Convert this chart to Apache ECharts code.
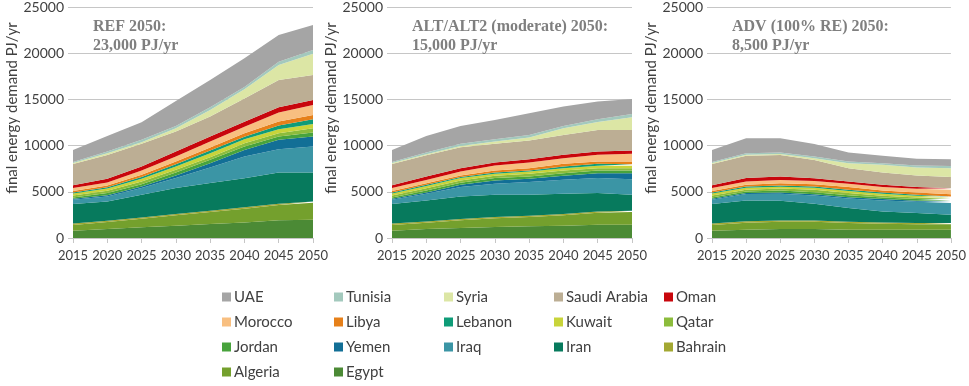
<!DOCTYPE html>
<html>
<head>
<meta charset="utf-8">
<script src="https://cdn.jsdelivr.net/npm/echarts@6/dist/echarts.min.js"></script>
<style>
  html, body { margin: 0; padding: 0; background: #fff; }
  #main { width: 969px; height: 386px; }
</style>
</head>
<body>
<div id="main"></div>
<script>
// years on the x axis
var years = ['2015', '2020', '2025', '2030', '2035', '2040', '2045', '2050'];

// stacking order, bottom to top
var countries = ['Egypt', 'Algeria', 'Bahrain', 'Iran', 'Iraq', 'Yemen', 'Jordan', 'Qatar', 'Kuwait',
  'Lebanon', 'Libya', 'Morocco', 'Oman', 'Saudi Arabia', 'Syria', 'Tunisia', 'UAE'];

var colors = {
  'Egypt': '#4b8a35', 'Algeria': '#74a02d', 'Bahrain': '#a3a832', 'Iran': '#077a5d',
  'Iraq': '#3b95a5', 'Yemen': '#126f96', 'Jordan': '#48a33c', 'Qatar': '#8cbc3c',
  'Kuwait': '#c8d43a', 'Lebanon': '#0f9c78', 'Libya': '#e6801a', 'Morocco': '#f8bf80',
  'Oman': '#c8060c', 'Saudi Arabia': '#bcae94', 'Syria': '#dce6a5', 'Tunisia': '#a3c9bd',
  'UAE': '#a5a5a5'
};

// REF scenario, PJ/yr
var refEgypt   = [790, 970, 1150, 1330, 1510, 1690, 1910, 1980];
var refAlgeria = [620, 760, 940, 1120, 1300, 1480, 1660, 1840];
var refBahrain = [160, 140, 140, 140, 140, 170, 140, 140];
var refIran    = [2100, 2090, 2450, 2810, 2990, 3130, 3380, 3130];
var refIraq    = [480, 540, 720, 1080, 1690, 2340, 2520, 2810];
var refYemen   = [90, 140, 180, 290, 470, 720, 1010, 1080];
var refJordan  = [150, 220, 250, 320, 360, 360, 360, 430];
var refQatar   = [200, 250, 290, 290, 290, 360, 360, 470];
var refKuwait  = [230, 250, 290, 360, 430, 430, 430, 470];
var refLebanon = [110, 140, 180, 250, 290, 290, 400, 500];
var refLibya   = [170, 180, 250, 290, 320, 360, 430, 470];
var refMorocco = [300, 320, 470, 540, 650, 720, 970, 1080];
var refOman    = [300, 400, 430, 540, 540, 540, 580, 540];
var refSaudi   = [2300, 2590, 2450, 2160, 2160, 2500, 2950, 2700];
var refSyria   = [110, 180, 180, 360, 720, 1010, 1620, 2300];
var refTunisia = [120, 180, 250, 250, 290, 250, 360, 400];
var refUAE     = [1300, 1690, 1900, 2700, 2950, 3100, 2880, 2700];

// ALT/ALT2 scenario
var altEgypt   = [790, 970, 1080, 1190, 1260, 1330, 1440, 1440];
var altAlgeria = [620, 680, 830, 940, 1010, 1120, 1300, 1370];
var altBahrain = [160, 140, 140, 140, 140, 140, 140, 140];
var altIran    = [2100, 2270, 2450, 2410, 2270, 2200, 1980, 1730];
var altIraq    = [480, 720, 1010, 1190, 1370, 1510, 1620, 1690];
var altYemen   = [90, 140, 250, 360, 360, 430, 540, 650];
var altJordan  = [150, 220, 220, 250, 250, 290, 290, 290];
var altQatar   = [200, 250, 250, 250, 290, 290, 250, 250];
var altKuwait  = [230, 250, 250, 220, 250, 250, 250, 250];
var altLebanon = [110, 110, 110, 140, 110, 180, 220, 180];
var altLibya   = [170, 180, 180, 220, 250, 290, 250, 290];
var altMorocco = [300, 360, 430, 540, 610, 610, 720, 830];
var altOman    = [300, 360, 360, 320, 360, 360, 360, 360];
var altSaudi   = [2300, 2300, 2270, 2020, 2020, 2160, 2340, 2230];
var altSyria   = [110, 110, 140, 250, 320, 720, 860, 1370];
var altTunisia = [120, 180, 220, 250, 290, 250, 290, 360];
var altUAE     = [1300, 1800, 1940, 2090, 2340, 2090, 1910, 1620];

// ADV scenario
var advEgypt   = [790, 900, 970, 970, 900, 900, 900, 900];
var advAlgeria = [620, 760, 790, 790, 720, 650, 580, 580];
var advBahrain = [160, 140, 140, 140, 140, 140, 140, 140];
var advIran    = [2100, 2270, 2120, 1800, 1480, 1190, 1080, 900];
var advIraq    = [480, 680, 760, 900, 1040, 1190, 1220, 1260];
var advYemen   = [90, 110, 140, 140, 140, 140, 110, 140];
var advJordan  = [150, 180, 220, 220, 220, 180, 180, 140];
var advQatar   = [200, 180, 220, 250, 220, 180, 180, 180];
var advKuwait  = [230, 220, 180, 220, 220, 220, 180, 140];
var advLebanon = [110, 140, 140, 140, 140, 140, 110, 110];
var advLibya   = [170, 180, 250, 250, 290, 220, 250, 250];
var advMorocco = [300, 360, 360, 360, 360, 360, 400, 470];
var advOman    = [300, 360, 360, 290, 250, 250, 180, 180];
var advSaudi   = [2300, 2410, 2340, 1980, 1440, 1330, 1260, 1220];
var advSyria   = [110, 110, 110, 180, 540, 830, 860, 940];
var advTunisia = [120, 180, 140, 180, 180, 180, 220, 250];
var advUAE     = [1300, 1620, 1550, 1370, 970, 790, 720, 720];

var scenarios = [
  [refEgypt, refAlgeria, refBahrain, refIran, refIraq, refYemen, refJordan, refQatar, refKuwait,
   refLebanon, refLibya, refMorocco, refOman, refSaudi, refSyria, refTunisia, refUAE],
  [altEgypt, altAlgeria, altBahrain, altIran, altIraq, altYemen, altJordan, altQatar, altKuwait,
   altLebanon, altLibya, altMorocco, altOman, altSaudi, altSyria, altTunisia, altUAE],
  [advEgypt, advAlgeria, advBahrain, advIran, advIraq, advYemen, advJordan, advQatar, advKuwait,
   advLebanon, advLibya, advMorocco, advOman, advSaudi, advSyria, advTunisia, advUAE]
];

var panelTitles = ['REF 2050:\n23,000 PJ/yr', 'ALT/ALT2 (moderate) 2050:\n15,000 PJ/yr', 'ADV (100% RE) 2050:\n8,500 PJ/yr'];
var yTicks = [0, 5000, 10000, 15000, 20000, 25000];

// legend columns, as laid out under the charts
var legendCols = [
  ['UAE', 'Morocco', 'Jordan', 'Algeria'],
  ['Tunisia', 'Libya', 'Yemen', 'Egypt'],
  ['Syria', 'Lebanon', 'Iraq'],
  ['Saudi Arabia', 'Kuwait', 'Iran'],
  ['Oman', 'Qatar', 'Bahrain']
];

var gridLeft = [73, 392, 712];
var legendLeft = [222, 334, 444, 554, 664];
var FONT = 'Lato';
var TXT = '#404040';
var GRID = '#c6c6c6';

var grids = [], xAxes = [], yAxes = [], series = [], titles = [], legends = [], graphics = [];

for (var p = 0; p < 3; p++) {
  grids.push({ left: gridLeft[p], width: 240, top: 7, height: 231 });
  xAxes.push({
    type: 'category', gridIndex: p, data: years, boundaryGap: false,
    axisLine: { lineStyle: { color: GRID } },
    axisTick: { show: true, length: 5, interval: 0, lineStyle: { color: GRID } },
    axisLabel: { color: TXT, fontSize: 13, fontFamily: FONT, margin: 11, interval: 0 }
  });
  yAxes.push({
    type: 'value', gridIndex: p, min: yTicks[0], max: yTicks[yTicks.length - 1], interval: 5000,
    axisLine: { show: false },
    axisTick: { show: true, length: 5, lineStyle: { color: GRID } },
    splitLine: { lineStyle: { color: GRID } },
    axisLabel: {
      color: TXT, fontSize: 14, fontFamily: FONT, margin: 9,
      formatter: function (v) { return String(v); }
    }
  });
  for (var c = 0; c < countries.length; c++) {
    series.push({
      name: countries[c], type: 'line', xAxisIndex: p, yAxisIndex: p,
      stack: 'panel' + p, data: scenarios[p][c],
      symbol: 'none', smooth: false,
      lineStyle: { width: 0 },
      itemStyle: { color: colors[countries[c]] },
      areaStyle: { color: colors[countries[c]], opacity: 1 },
      emphasis: { disabled: true }
    });
  }
  titles.push({
    text: panelTitles[p], left: gridLeft[p] + 15, top: 12,
    textStyle: { fontFamily: 'Liberation Serif', fontWeight: 'bold', fontSize: 16, color: '#7f7f7f', lineHeight: 19 }
  });
  graphics.push({
    type: 'text', x: gridLeft[p] - 61, y: 108, rotation: Math.PI / 2,
    style: { text: 'final energy demand PJ/yr', fill: TXT, font: '15px ' + FONT, align: 'center', verticalAlign: 'middle' }
  });
}

for (var i = 0; i < legendCols.length; i++) {
  legends.push({
    data: legendCols[i], orient: 'vertical', left: legendLeft[i], top: 289, padding: 0,
    icon: 'rect', itemWidth: 9, itemHeight: 9, itemGap: 9,
    selectedMode: false,
    textStyle: { color: TXT, fontSize: 15, fontFamily: FONT, lineHeight: 16, padding: [0, 0, 0, -2] }
  });
}

var myChart = echarts.init(document.getElementById('main'));
myChart.setOption({
  animation: false,
  title: titles,
  grid: grids,
  xAxis: xAxes,
  yAxis: yAxes,
  legend: legends,
  graphic: graphics,
  series: series
});
</script>
</body>
</html>
